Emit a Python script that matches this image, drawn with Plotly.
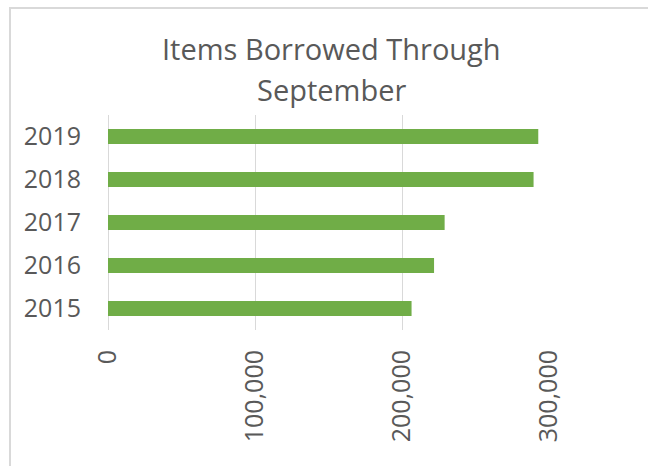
import plotly.graph_objects as go

years = ["2015", "2016", "2017", "2018", "2019"]
items_borrowed = [206500, 221800, 229000, 289500, 292700]
x_ticks = [0, 100000, 200000, 300000]
x_tick_labels = ["0", "100,000", "200,000", "300,000"]
title_lines = ["Items Borrowed Through", "September"]

W, H = 648, 466
L, R, T, B = 108, 549, 115, 330
pw, ph = R - L, B - T

def px_x(x):
    return (x - L) / pw

def px_y(y):
    return (B - y) / ph

FONT = "Open Sans"
GREY = "#595959"

fig = go.Figure(
    go.Bar(
        y=years,
        x=items_borrowed,
        orientation="h",
        marker=dict(color="#70AD47", line=dict(width=0)),
    )
)

fig.update_layout(
    width=W,
    height=H,
    margin=dict(l=L, r=W - R, t=T, b=H - B, pad=0),
    paper_bgcolor="white",
    plot_bgcolor="white",
    bargap=0.65,
    showlegend=False,
    font=dict(family=FONT, color=GREY),
)

fig.update_xaxes(
    range=[0, 300000],
    tickvals=x_ticks,
    ticktext=x_tick_labels,
    tickangle=-90,
    tickfont=dict(size=25, color=GREY, family=FONT),
    showgrid=True,
    gridcolor="#d9d9d9",
    gridwidth=1,
    zeroline=True,
    zerolinecolor="#d9d9d9",
    zerolinewidth=1,
    showline=False,
    ticks="",
    ticklabelstandoff=14,
    fixedrange=True,
)

fig.update_yaxes(
    categoryorder="array",
    categoryarray=years,
    tickfont=dict(size=25, color=GREY, family=FONT),
    showgrid=False,
    showline=False,
    ticks="",
    ticklabelstandoff=26,
    fixedrange=True,
)

# two-line title as annotations for precise line spacing
title_centers = [48.7, 89.2]
for line, yc in zip(title_lines, title_centers):
    fig.add_annotation(
        text=line,
        xref="paper",
        yref="paper",
        x=px_x(331),
        y=px_y(yc),
        xanchor="center",
        yanchor="middle",
        showarrow=False,
        font=dict(size=29, color=GREY, family=FONT),
    )

# chart-area border (cropped at right and bottom)
fig.add_shape(
    type="rect",
    xref="paper",
    yref="paper",
    x0=px_x(10),
    x1=px_x(700),
    y0=px_y(520),
    y1=px_y(8),
    line=dict(color="#d9d9d9", width=2),
    fillcolor="rgba(0,0,0,0)",
    layer="below",
)

fig.write_html("out.html")
